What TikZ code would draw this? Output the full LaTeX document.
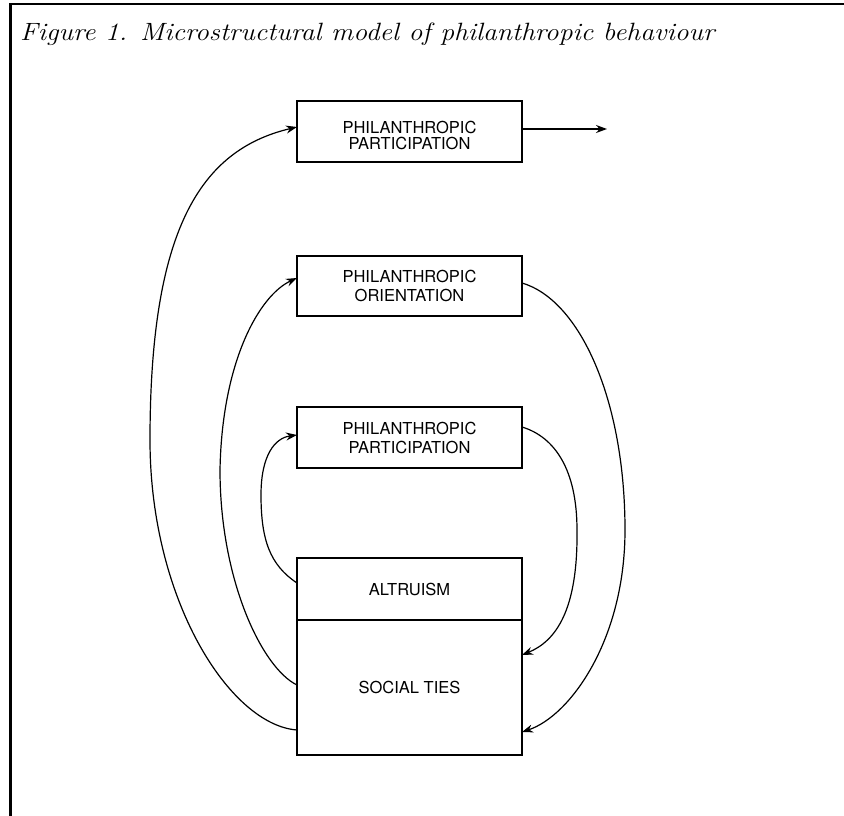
\documentclass[tikz,border=0pt]{standalone}
\usepackage{graphicx}
\usepackage{fontspec}
\newfontfamily\boxfont{TeX Gyre Heros}
\usetikzlibrary{arrows.meta,calc}
\begin{document}
\begin{tikzpicture}[x=1pt,y=-1pt,
  box/.style={draw, line width=1.4pt, inner sep=0pt, outer sep=0pt, minimum width=225pt,
    align=center, font=\boxfont\fontsize{16.5}{19}\selectfont},
  conn/.style={line width=1.2pt},
  arr/.style={conn, -{Stealth[length=11pt,width=8pt]}},
  frameline/.style={line width=2.4pt}]
\useasboundingbox (0,0) rectangle (844,816);
% frame
\coordinate (fa) at (844,4);
\coordinate (fb) at (10.5,4);
\coordinate (fc) at (10.5,816);
\draw[frameline] (fa) -- (fb) -- (fc);
% title
\node[anchor=base west, inner sep=0pt, font=\itshape\fontsize{25}{28}\selectfont] (title) at (20,41)
  {\scalebox{1.105}[1]{Figure 1. Microstructural model of philanthropic behaviour}};
% boxes
\node[box, minimum height=61pt] (p1) at (409.5,131.5)
  {\raisebox{-6pt}[\height][\depth]{\begin{tabular}{@{}c@{}}PHILANTHROPIC\\[-2.5pt]PARTICIPATION\end{tabular}}};
\node[box, minimum height=60pt] (p2) at (409.5,286) {PHILANTHROPIC\\ORIENTATION};
\node[box, minimum height=61pt] (p3) at (409.5,437.5) {PHILANTHROPIC\\PARTICIPATION};
\node[box, minimum height=62pt] (alt) at (409.5,589) {ALTRUISM};
\node[box, minimum height=135pt] (soc) at (409.5,687.5) {SOCIAL TIES};
% outgoing arrow
\coordinate (out) at (607,129);
\draw[arr] ($(p1.east)+(0,-2.5)$) -- (out);
% left connectors
\draw[arr] ($(soc.south west)+(0,-25)$) .. controls (230,725) and (150,600) .. (150,440)
  .. controls (150,230) and (200,150) .. ($(p1.west)+(0,-4.5)$);
\draw[arr] ($(soc.west)+(0,-2.5)$) .. controls (262,668) and (220,580) .. (220,470)
  .. controls (222,360) and (260,295) .. ($(p2.west)+(0,-8)$);
\draw[arr] ($(alt.west)+(0,-6)$) .. controls (270,565) and (261,540) .. (261,495)
  .. controls (261,455) and (275,438) .. ($(p3.west)+(0,-2.5)$);
% right connectors
\draw[arr] ($(p2.east)+(0,-3)$) .. controls (580,300) and (625,400) .. (625,530)
  .. controls (625,640) and (570,716) .. ($(soc.east)+(0,44.5)$);
\draw[arr] ($(p3.east)+(0,-10.5)$) .. controls (555,437) and (577,470) .. (577,530)
  .. controls (578,610) and (556,641) .. ($(soc.east)+(0,-32.5)$);
\end{tikzpicture}
\end{document}
